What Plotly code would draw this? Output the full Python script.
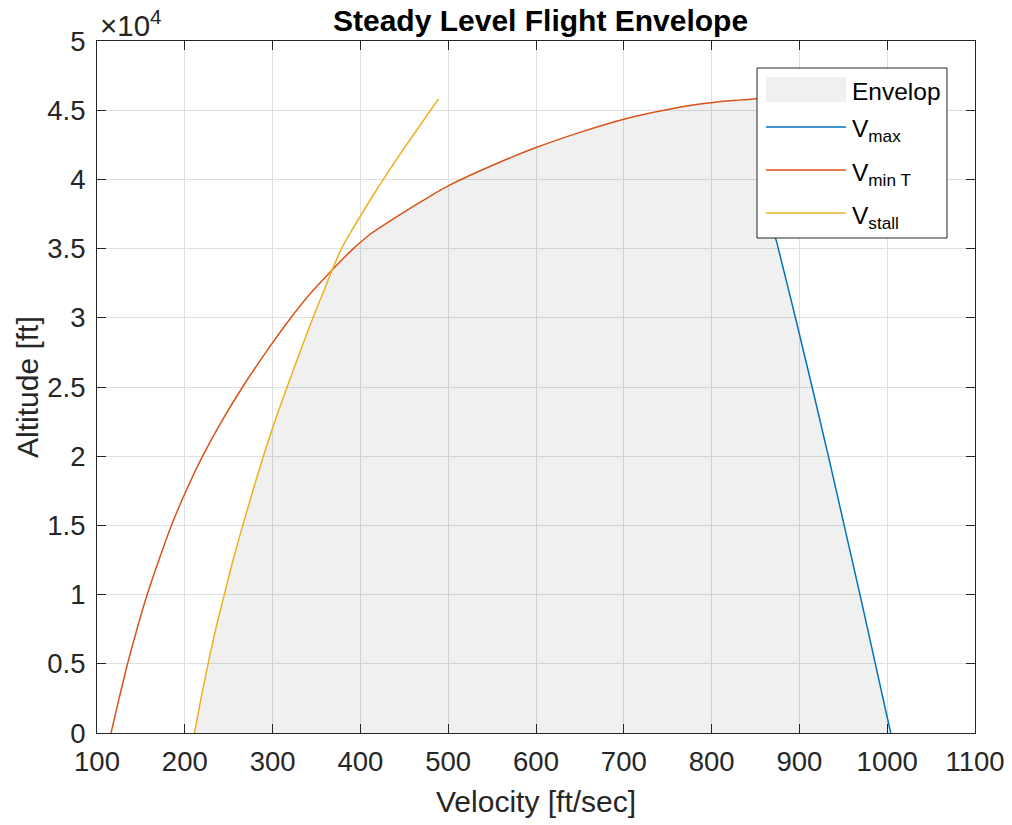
import plotly.graph_objects as go

# ---- data ----
TROPO = 36089  # altitude of the kink in the curves

h_stall = [0, 2500, 5000, 7500, 10000, 12500, 15000, 17500, 20000, 22500, 25000,
           27500, 30000, 32500, 33460, 35000, 36089, 39000, 41900, 44000, 45820]
v_stall = [211, 218.5, 226.5, 235.2, 245, 255, 266, 277.5, 289.5, 302.5, 316.5,
           331, 346, 361.8, 367.8, 378.5, 388, 416, 446, 469, 489]

h_minT = [0, 2500, 5000, 7500, 10000, 12500, 15000, 17500, 20000, 22500, 25000,
          27500, 30000, 31750, 33460, 35000, 36089, 37430, 38500, 39530, 41000,
          42300, 43400, 44350, 45050, 45440, 45680, 45800, 45840]
v_minT = [116, 125.2, 134.8, 145.5, 157.2, 170.5, 184.8, 201.5, 220.3, 241.8, 265.8,
          292.3, 320.8, 343, 367.8, 392, 412, 444.7, 472, 500, 550,
          600, 650, 700, 750, 786.6, 820, 845, 857]

h_max = [0, 5000, 10000, 15000, 20000, 25000, 30000, 35000, 37500, 40000, 43000, 45840]
v_max = [1004, 986.5, 969, 951, 933, 914.5, 895.5, 876, 866, 860, 857.5, 857]

h_cross = 33460  # stall / min-thrust crossing altitude

x_ticks = [100, 200, 300, 400, 500, 600, 700, 800, 900, 1000, 1100]
y_ticks = [0, 5000, 10000, 15000, 20000, 25000, 30000, 35000, 40000, 45000, 50000]
y_tick_text = ["0", "0.5", "1", "1.5", "2", "2.5", "3", "3.5", "4", "4.5", "5"]

legend_labels = ["Envelop", "V<sub>max</sub>", "V<sub>min T</sub>", "V<sub>stall</sub>"]

C_MAX, C_MINT, C_STALL = "#0072BD", "#D95319", "#EDB120"
C_ENV = "#f0f0f0"
AX = "#262626"
FONT = "Liberation Sans, Arial, Helvetica, sans-serif"

# ---- geometry (page pixels; the html body adds an 8px offset) ----
OFF = 8
W, H = 1012 - OFF, 825 - OFF
P_LEFT, P_RIGHT, P_TOP, P_BOTTOM = 97, 975, 41, 733  # plot area in page pixels
ML, MT = P_LEFT - OFF, P_TOP - OFF
MR, MB = W - (P_RIGHT - OFF), H - (P_BOTTOM - OFF)
PW, PH = P_RIGHT - P_LEFT, P_BOTTOM - P_TOP


def px(xp):
    return (xp - P_LEFT) / PW


def py(yp):
    return (P_BOTTOM - yp) / PH


# ---- envelope polygon built from the curves ----
env_v, env_h = [], []
for v, h in zip(v_stall, h_stall):
    if h <= h_cross:
        env_v.append(v); env_h.append(h)
for v, h in zip(v_minT, h_minT):
    if h > h_cross:
        env_v.append(v); env_h.append(h)
for v, h in reversed(list(zip(v_max, h_max))):
    env_v.append(v); env_h.append(h)
env_v.append(env_v[0]); env_h.append(env_h[0])

fig = go.Figure()
fig.add_trace(go.Scatter(x=env_v, y=env_h, mode="lines", fill="toself",
                         fillcolor="rgba(0,0,0,0.058)", line=dict(width=0),
                         name="Envelop", hoverinfo="skip", showlegend=False))


def add_split(vs, hs, color, name):
    lo = [(v, h) for v, h in zip(vs, hs) if h <= TROPO]
    hi = [(v, h) for v, h in zip(vs, hs) if h >= TROPO]
    for seg in (lo, hi):
        fig.add_trace(go.Scatter(x=[p[0] for p in seg], y=[p[1] for p in seg],
                                 mode="lines", name=name, showlegend=False,
                                 line=dict(color=color, width=1.5, shape="spline",
                                           smoothing=1.0)))


fig.add_trace(go.Scatter(x=v_max, y=h_max, mode="lines", name="Vmax", showlegend=False,
                         line=dict(color=C_MAX, width=1.5, shape="spline", smoothing=1.0)))
add_split(v_minT, h_minT, C_MINT, "Vmin T")
add_split(v_stall, h_stall, C_STALL, "Vstall")

axis_common = dict(showline=True, linecolor=AX, linewidth=1, mirror="ticks",
                   ticks="inside", ticklen=9, tickcolor=AX, tickwidth=1,
                   showgrid=True, gridcolor="#dfdfdf", gridwidth=1, automargin=False,
                   zeroline=False, ticklabeloverflow="allow",
                   tickfont=dict(size=27.5, color=AX, family=FONT))

fig.update_xaxes(range=[100, 1100], tickvals=x_ticks, ticktext=[str(t) for t in x_ticks],
                 ticklabelstandoff=4, **axis_common)
fig.update_yaxes(range=[0, 50000], tickvals=y_ticks, ticktext=y_tick_text,
                 ticklabelstandoff=5, **axis_common)

ann = []
# exponent label
ann.append(dict(xref="paper", yref="paper", x=px(98), y=py(44), xanchor="left",
                yanchor="bottom", text="×10<sup>4</sup>", showarrow=False,
                font=dict(size=29.5, color=AX, family=FONT)))
# axis titles
ann.append(dict(xref="paper", yref="paper", x=px(536), y=py(801), xanchor="center",
                yanchor="middle", text="Velocity [ft/sec]", showarrow=False,
                font=dict(size=30, color=AX, family=FONT)))
ann.append(dict(xref="paper", yref="paper", x=px(27), y=py(387), xanchor="center",
                yanchor="middle", text="Altitude [ft]", textangle=-90, showarrow=False,
                font=dict(size=30, color=AX, family=FONT)))
# title
ann.append(dict(xref="paper", yref="paper", x=px(540), y=py(21), xanchor="center",
                yanchor="middle", text="<b>Steady Level Flight Envelope</b>", showarrow=False,
                font=dict(size=30, color="black", family=FONT)))

# ---- hand-drawn legend box (MATLAB style) ----
shapes = []
shapes.append(dict(type="rect", xref="paper", yref="paper", x0=px(757), x1=px(947),
                   y0=py(238), y1=py(68), fillcolor="white",
                   line=dict(color=AX, width=1)))
shapes.append(dict(type="rect", xref="paper", yref="paper", x0=px(766), x1=px(846),
                   y0=py(102), y1=py(77), fillcolor=C_ENV, line=dict(width=0)))
row_y = [90, 127, 170, 213]
for yy, col in zip(row_y[1:], [C_MAX, C_MINT, C_STALL]):
    shapes.append(dict(type="line", xref="paper", yref="paper", x0=px(766), x1=px(846),
                       y0=py(yy), y1=py(yy), line=dict(color=col, width=1.5)))
text_y = [91, 131, 174, 217]
for yy, lab in zip(text_y, legend_labels):
    ann.append(dict(xref="paper", yref="paper", x=px(850), y=py(yy), xanchor="left",
                    yanchor="middle", text=lab, showarrow=False,
                    font=dict(size=24.5, color="black", family=FONT)))

fig.update_layout(
    width=W, height=H,
    margin=dict(l=ML, r=MR, t=MT, b=MB, autoexpand=False),
    paper_bgcolor="white", plot_bgcolor="white",
    showlegend=False,
    annotations=ann, shapes=shapes,
)

fig.write_html("out.html")
